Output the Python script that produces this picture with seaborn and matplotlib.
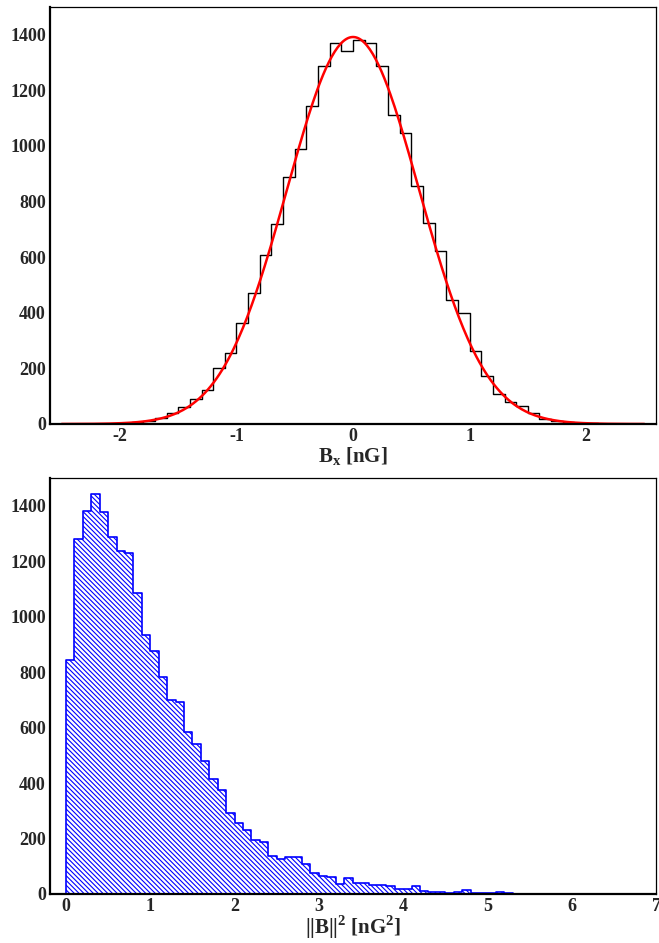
import numpy as np
import pandas as pd
import matplotlib
matplotlib.use("Agg")
import matplotlib.pyplot as plt
import seaborn as sns

# top panel: B_x histogram, 50 bins of 0.1 nG between -2.5 and 2.5
BX_EDGES_LO = -2.5
BX_BIN = 0.1
BX_COUNTS = [0, 0, 0, 1, 1, 3, 6, 10, 20, 38,
             62, 91, 123, 202, 255, 365, 472, 607, 719, 889,
             989, 1144, 1289, 1371, 1340, 1381, 1369, 1288, 1113, 1048,
             856, 723, 621, 446, 399, 264, 172, 109, 78, 65,
             38, 17, 10, 6, 3, 2, 1, 0, 0, 0]
# gaussian fit drawn over it (constant, mean, sigma)
FIT_CONST = 1392.0
FIT_MEAN = 0.0
FIT_SIGMA = 0.566
FIT_RANGE = (-2.5, 2.5)

# bottom panel: |B|^2 histogram, 70 bins of 0.1 nG^2 between 0 and 7
B2_EDGES_LO = 0.0
B2_BIN = 0.1
B2_COUNTS = [845, 1280, 1381, 1444, 1376, 1286, 1238, 1229, 1085, 934,
             876, 782, 699, 691, 584, 541, 478, 416, 376, 292,
             255, 229, 193, 186, 136, 125, 132, 134, 109, 76,
             66, 61, 36, 58, 40, 38, 32, 34, 30, 18,
             17, 29, 12, 8, 6, 4, 7, 14, 2, 2,
             2, 6, 5, 1, 0, 0, 1, 0, 1, 0,
             1, 1, 0, 0, 0, 0, 0, 0, 0, 0]

sns.set_style("white")
plt.rcParams["font.family"] = ["Liberation Serif", "DejaVu Serif"]
plt.rcParams["font.weight"] = "bold"
plt.rcParams["mathtext.fontset"] = "custom"
plt.rcParams["mathtext.rm"] = "Liberation Serif:bold"
plt.rcParams["mathtext.bf"] = "Liberation Serif:bold"
plt.rcParams["axes.unicode_minus"] = False
plt.rcParams["hatch.linewidth"] = 0.8
FT = 13


def hist_frame(lo, width, counts):
    counts = np.asarray(counts, dtype=float)
    edges = lo + width * np.arange(len(counts) + 1)
    centers = (edges[:-1] + edges[1:]) / 2
    return pd.DataFrame({"x": centers, "n": counts}), [float(e) for e in edges]


def style_axes(ax, xlim, xmajor, xminor):
    ax.set_xlim(*xlim)
    ax.set_ylim(0, 1500)
    ax.set_xticks(xmajor)
    ax.set_xticks(xminor, minor=True)
    ax.set_yticks(np.arange(0, 1401, 200))
    ax.set_yticks(np.arange(0, 1501, 50), minor=True)
    ax.tick_params(axis="y", which="major", direction="in", length=12.5,
                   width=1.2, labelsize=FT, pad=3)
    ax.tick_params(axis="y", which="minor", direction="in", length=6.5, width=1.0)
    ax.tick_params(axis="x", which="major", direction="in", length=9,
                   width=1.2, labelsize=FT, pad=3)
    ax.tick_params(axis="x", which="minor", direction="in", length=5, width=1.0)
    ax.tick_params(top=False, right=False)
    for lab in ax.get_xticklabels() + ax.get_yticklabels():
        lab.set_fontweight("bold")
    for side in ["left", "bottom"]:
        ax.spines[side].set_linewidth(1.6)
        ax.spines[side].set_color("black")
    for side in ["top", "right"]:
        ax.spines[side].set_linewidth(0.9)
        ax.spines[side].set_color("black")
    ax.set_ylabel("")


fig = plt.figure(figsize=(6.59, 9.43), dpi=100)
ax1 = fig.add_axes([0.0759, 0.5504, 0.9196, 0.4422])
ax2 = fig.add_axes([0.0759, 0.052, 0.9196, 0.4411])

# ---- top: B_x with gaussian fit
bx, bx_edges = hist_frame(BX_EDGES_LO, BX_BIN, BX_COUNTS)
sns.histplot(data=bx, x="x", weights="n", bins=bx_edges, element="step",
             fill=False, color="black", linewidth=1.0, ax=ax1)
xf = np.linspace(FIT_RANGE[0], FIT_RANGE[1], 400)
fit = pd.DataFrame({"x": xf,
                    "y": FIT_CONST * np.exp(-0.5 * ((xf - FIT_MEAN) / FIT_SIGMA) ** 2)})
sns.lineplot(data=fit, x="x", y="y", color="red", linewidth=1.8, ax=ax1)
style_axes(ax1, (-2.6, 2.6), np.arange(-2, 3, 1), np.arange(-2.4, 2.5, 0.2))
ax1.set_xlabel(r"B$_{\mathregular{x}}$ [nG]", fontsize=15, fontweight="bold",
               labelpad=0)

# ---- bottom: |B|^2, hatched blue
b2, b2_edges = hist_frame(B2_EDGES_LO, B2_BIN, B2_COUNTS)
sns.histplot(data=b2, x="x", weights="n", bins=b2_edges, element="step",
             fill=True, color="blue", linewidth=1.2, ax=ax2)
for coll in ax2.collections:
    coll.set_facecolor("none")
    coll.set_edgecolor("blue")
    coll.set_hatch("\\" * 7)
    coll.set_linewidth(1.2)
style_axes(ax2, (-0.19, 7.0), np.arange(0, 8, 1), np.arange(0, 7.01, 0.2))
ax2.set_xlabel(r"||B||$^{\mathregular{2}}$ [nG$^{\mathregular{2}}$]", fontsize=15,
               fontweight="bold", labelpad=-1)

fig.savefig("out.png", dpi=100)
